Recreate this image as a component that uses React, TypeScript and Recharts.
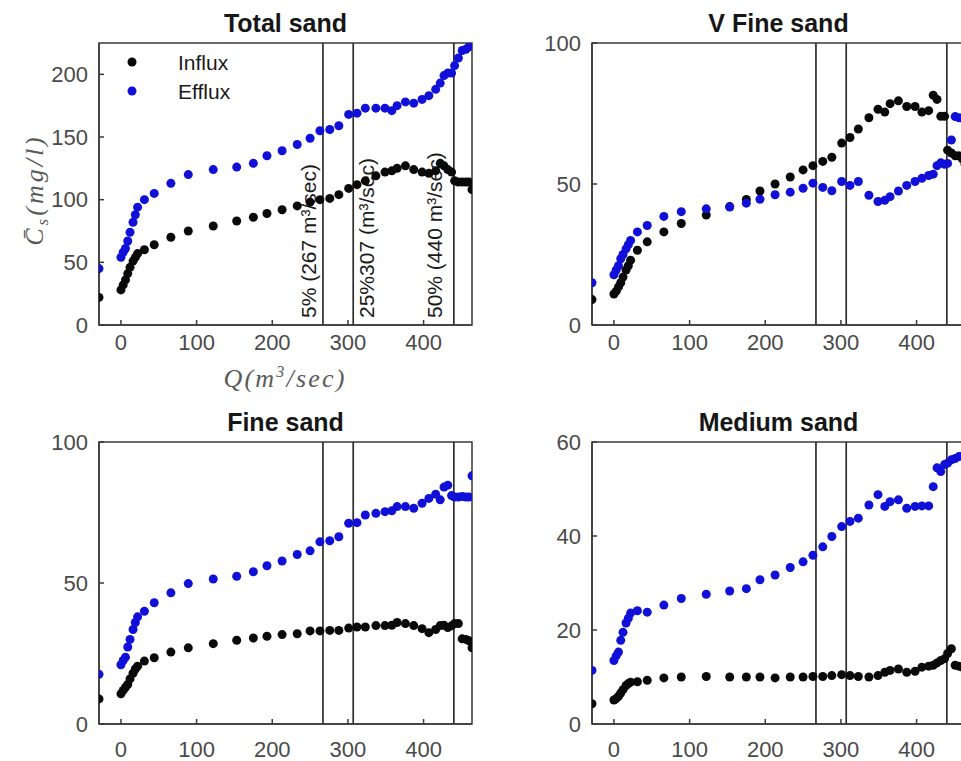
import React from "react";
import { ReferenceArea, ReferenceLine, Scatter, ScatterChart, XAxis, YAxis } from "recharts";

// discharge Q (m3/sec) shared by every panel
const flow = [
  -29, 0, 3, 6, 9, 12, 16, 19, 22,
  31, 44, 66, 89, 122, 153, 175, 193, 213, 233,
  250, 263, 276, 288, 301, 312, 323, 337, 349, 358,
  365, 376, 387, 398, 407, 416, 422, 427, 432, 437,
  441, 446, 451, 456, 460, 464,
];

const totalInflux = [
  22, 28, 32, 36, 41, 46, 51, 54, 57,
  60, 64, 70, 75, 79, 83, 86, 89, 92, 95,
  98, 100, 101, 104, 109, 112, 115, 119, 122, 123,
  125, 127, 124, 122, 121, 123, 129, 127, 124, 122,
  115, 114, 114, 114, 114, 108,
];
const totalEfflux = [
  45, 54, 58, 61, 67, 74, 82, 88, 94,
  100, 105, 113, 120, 124, 126, 129, 135, 139, 144,
  149, 155, 156, 159, 168, 169, 173, 173, 173, 171,
  175, 178, 177, 180, 183, 188, 193, 199, 201, 201,
  207, 213, 219, 220, 222, 225,
];

const vfineInflux = [
  9, 11, 12, 13.5, 15, 17, 19.5, 21, 23,
  26.5, 29.5, 33, 36, 39, 42, 44.5, 47.5, 50, 52.5,
  55, 56.5, 58, 59.5, 64.5, 66.5, 69.5, 73.5, 76.5, 75.5,
  78.5, 79.5, 77.5, 77.5, 75.5, 76, 81.5, 80, 74, 74,
  62, 61, 60, 60, 59, 57,
];
const vfineEfflux = [
  15, 17.8, 19.5, 21, 23.5, 25, 27, 28.5, 30,
  33, 35.3, 38.5, 40.2, 41.2, 41.8, 43.2, 44.6, 46.2, 47.1,
  48.5, 50.3, 48.8, 47.6, 50.9, 49.5, 50.9, 46, 43.8, 44.2,
  45.5, 47.5, 49.5, 50.9, 52, 53, 53.5, 56.5, 57.5, 57,
  57.3, 65.6, 73.9, 73.5, 73.4, 73,
];

const fineInflux = [
  8.9, 10.7, 11.9, 13, 14, 16, 18, 19.5, 20.5,
  22.3, 23.5, 25.5, 27, 28.5, 29.7, 30.5, 31.1, 31.7, 32,
  33, 33, 33.2, 33.2, 34, 34.4, 34.4, 34.9, 34.9, 35,
  36, 35.6, 34.9, 33.8, 32.4, 33.5, 34.9, 35, 34.2, 34.8,
  35.6, 35.6, 30.2, 30, 29.5, 27,
];
const fineEfflux = [
  17.6, 21, 22.5, 23.7, 27.3, 30, 33.5, 36, 38,
  40, 43, 46.5, 49.8, 51.4, 52.4, 54, 56.1, 57.8, 60.1,
  61.4, 64.6, 65, 66.4, 71.2, 71.4, 74.1, 74.7, 75.3, 75.6,
  77.1, 77.1, 76.5, 78.3, 80, 81.5, 79.5, 84, 84.7, 81,
  80.5, 80.5, 80.7, 80.5, 80.5, 88,
];

const mediumInflux = [
  4.3, 5.1, 5.4, 5.9, 6.6, 7.3, 8.2, 8.6, 8.9,
  9, 9.3, 9.8, 10, 10.1, 10, 10, 10, 9.8, 10,
  10, 10.1, 10.1, 10.3, 10.5, 10.3, 10.1, 10, 10.3, 11,
  11.4, 11.7, 11, 11.2, 12.1, 12.3, 12.5, 13, 13.5, 13.9,
  15, 16, 12.5, 12.3, 12.1, 12,
];
const mediumEfflux = [
  11.4, 13.5, 14.5, 15.3, 17.8, 19.5, 21.5, 22.5, 23.6,
  24.1, 23.8, 25.3, 26.7, 27.6, 28.3, 28.8, 30.7, 31.7, 33.3,
  34.5, 35.9, 37.7, 39.9, 42, 43.1, 43.8, 46.6, 48.8, 46.3,
  47.3, 47.7, 45.9, 46.3, 46.4, 46.4, 50.5, 54.5, 53.7, 55.2,
  55.5, 56.2, 56.5, 56.9, 57, 57,
];

const seriesNames = ["Influx", "Efflux"];
const qDomain = [-29, 464];
const qTicks = [0, 100, 200, 300, 400];
const percentileQ = [267, 307, 440];
const percentileText = ["5% (267 m³/sec)", "25%307 (m³/sec)", "50% (440 m³/sec)"];

const SANS = "'Liberation Sans', Arial, sans-serif";
const SERIF = "'Liberation Serif', 'DejaVu Serif', serif";
const INK = "#0a0a0a";
const BLUE = "#1010d8";
const TICK = "#4a4a4a";
const FRAME = "#3a3a3a";

// baseline offset of each rotated note from its line
const noteShift = [-7, 21, -12];

const toPoints = (vals: number[]) => flow.map((q, i) => ({ q, c: vals[i] }));

const dot = (color: string) => (p: any) => (
  <circle cx={p.cx} cy={p.cy} r={4.5} fill={color} />
);

function Note(props: any) {
  const vb = props.viewBox || {};
  const x = vb.x + props.shift;
  const y = vb.y + vb.height - 7;
  return (
    <text
      transform={`translate(${x},${y}) rotate(-90)`}
      fontFamily={SANS}
      fontSize={21}
      fill="#1a1a1a"
    >
      {props.text}
    </text>
  );
}

function Panel(props: {
  title: string;
  influx: number[];
  efflux: number[];
  yMax: number;
  yTicks: number[];
  left: number;
  top: number;
  xGap: number;
  first?: boolean;
}) {
  const { title, influx, efflux, yMax, yTicks, left, top, xGap, first } = props;
  const tickStyle = { fontSize: 22, fontFamily: SANS, fill: TICK };
  return (
    <div style={{ position: "absolute", left, top, width: 480, height: 400 }}>
      <div
        style={{
          position: "absolute",
          left: 99,
          width: 373,
          top: 9,
          textAlign: "center",
          font: `bold 25px ${SANS}`,
          color: "#161616",
          lineHeight: "28px",
        }}
      >
        {title}
      </div>
      <ScatterChart
        width={480}
        height={400}
        margin={{ top: 43, right: 8, bottom: 35, left: 39 }}
        style={{ position: "absolute", left: 0, top: 0 }}
      >
        <XAxis
          type="number"
          dataKey="q"
          domain={qDomain}
          ticks={qTicks}
          allowDataOverflow
          height={40}
          tickSize={-5}
          tickMargin={xGap}
          tick={tickStyle}
          stroke={FRAME}
          strokeWidth={1.5}
        />
        <YAxis
          type="number"
          dataKey="c"
          domain={[0, yMax]}
          ticks={yTicks}
          allowDataOverflow
          width={60}
          tickSize={-5}
          tickMargin={16}
          tick={tickStyle}
          stroke={FRAME}
          strokeWidth={1.5}
        />
        <XAxis
          xAxisId="top"
          orientation="top"
          type="number"
          domain={qDomain}
          ticks={qTicks}
          allowDataOverflow
          height={0}
          tickSize={-5}
          tickFormatter={() => ""}
          stroke={FRAME}
          strokeWidth={1.5}
        />
        <YAxis
          yAxisId="right"
          orientation="right"
          type="number"
          domain={[0, yMax]}
          ticks={yTicks}
          allowDataOverflow
          width={0}
          tickSize={-5}
          tickFormatter={() => ""}
          stroke={FRAME}
          strokeWidth={1.5}
        />
        <ReferenceArea
          x1={qDomain[0]}
          x2={qDomain[1]}
          y1={0}
          y2={yMax}
          fill="none"
          fillOpacity={0}
          stroke={FRAME}
          strokeWidth={1.5}
        />
        {percentileQ.map((q, i) => (
          <ReferenceLine
            key={q}
            x={q}
            stroke="#2e2e2e"
            strokeWidth={1.7}
            label={first ? <Note text={percentileText[i]} shift={noteShift[i]} /> : undefined}
          />
        ))}
        <Scatter
          name={seriesNames[0]}
          data={toPoints(influx)}
          fill={INK}
          shape={dot(INK)}
          isAnimationActive={false}
        />
        <Scatter
          name={seriesNames[1]}
          data={toPoints(efflux)}
          fill={BLUE}
          shape={dot(BLUE)}
          isAnimationActive={false}
        />
      </ScatterChart>
      {first && (
        <svg
          width={480}
          height={400}
          style={{ position: "absolute", left: 0, top: 0, pointerEvents: "none" }}
        >
          {seriesNames.map((n, i) => (
            <g key={n}>
              <circle cx={132} cy={62 + i * 29} r={4.5} fill={i === 0 ? INK : BLUE} />
              <text x={178} y={62 + i * 29 + 7.5} fontFamily={SANS} fontSize={21} fill="#1a1a1a">
                {n}
              </text>
            </g>
          ))}
          <text
            x={285}
            y={387}
            textAnchor="middle"
            fontFamily={SERIF}
            fontStyle="italic"
            fontSize={26}
            letterSpacing={2.2}
            fill="#5a5a5a"
          >
            Q(m
            <tspan dy={-10} fontSize={16}>
              3
            </tspan>
            <tspan dy={10}>/sec)</tspan>
          </text>
          <text
            transform="translate(43,190) rotate(-90)"
            textAnchor="middle"
            fontFamily={SERIF}
            fontStyle="italic"
            fontSize={26}
            letterSpacing={3}
            fill="#5a5a5a"
          >
            {"C\u0304"}
            <tspan dy={5} fontSize={17}>
              s
            </tspan>
            <tspan dy={-5}>(mg/l)</tspan>
          </text>
        </svg>
      )}
    </div>
  );
}

export default function App() {
  return (
    <div
      style={{
        position: "fixed",
        left: 0,
        top: 0,
        width: 961,
        height: 761,
        overflow: "hidden",
        background: "#fff",
      }}
    >
      <Panel
        title="Total sand"
        influx={totalInflux}
        efflux={totalEfflux}
        yMax={225}
        yTicks={[0, 50, 100, 150, 200]}
        left={0}
        top={0}
        xGap={14}
        first
      />
      <Panel
        title="V Fine sand"
        influx={vfineInflux}
        efflux={vfineEfflux}
        yMax={100}
        yTicks={[0, 50, 100]}
        left={493}
        top={0}
        xGap={14}
      />
      <Panel
        title="Fine sand"
        influx={fineInflux}
        efflux={fineEfflux}
        yMax={100}
        yTicks={[0, 50, 100]}
        left={0}
        top={399}
        xGap={22}
      />
      <Panel
        title="Medium sand"
        influx={mediumInflux}
        efflux={mediumEfflux}
        yMax={60}
        yTicks={[0, 20, 40, 60]}
        left={493}
        top={399}
        xGap={22}
      />
    </div>
  );
}
